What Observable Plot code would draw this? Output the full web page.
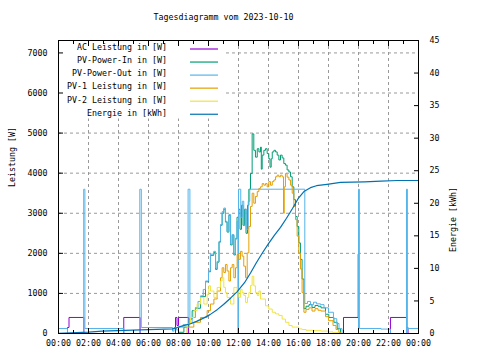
<!DOCTYPE html>
<html><head><meta charset="utf-8">
<script src="https://cdn.jsdelivr.net/npm/d3@7"></script>
<script src="https://cdn.jsdelivr.net/npm/@observablehq/plot@0.6"></script>
<style>html,body{margin:0;padding:0;background:#fff}svg{display:block}</style>
</head><body><div id="chart"></div>
<script>
const title = "Tagesdiagramm vom 2023-10-10";
const yLabelLeft = "Leistung [W]";
const yLabelRight = "Energie [kWh]";
const seriesNames = ["AC Leistung in [W]", "PV-Power-In in [W]", "PV-Power-Out in [W]", "PV-1 Leistung in [W]", "PV-2 Leistung in [W]", "Energie in [kWh]"];
const seriesColors = ["#9400d3", "#009e73", "#56b4e9", "#e69f00", "#f0e442", "#0072b2"];
const hourTicks = [0,2,4,6,8,10,12,14,16,18,20,22,24];
const hourMinor = [1,3,5,7,9,11,13,15,17,19,21,23];
const wattTicks = [0,1000,2000,3000,4000,5000,6000,7000];
const kwhTicks = [0,5,10,15,20,25,30,35,40,45];
const wattMax = 7310, kwhMax = 45;

// [hour, W]
const acPower = [[0,0],[0.6,150],[0.7,400],[1.69,0],[4.35,400],[5.44,0],[7.8,400],[7.9,200],[8.0,400],[8.67,0],
  [19.0,400],[19.98,1980],[20.0,0],[22.13,400],[23.2,150],[23.3,0],[24,0]];

const pvIn = [[0,0],[8.0,30],[8.36,160],[8.69,360],[8.91,570],[9.13,630],[9.47,920],[9.8,1290],[10.0,1540],[10.13,1950],
  [10.35,2020],[10.47,1600],[10.58,1780],[10.7,2280],[10.8,2700],[10.91,3000],[11.02,3100],[11.13,2780],[11.24,2530],
  [11.36,2950],[11.47,2210],[11.58,2450],[11.69,1960],[11.8,2360],[11.9,2900],[12.0,3100],[12.1,2600],[12.2,3200],
  [12.3,2700],[12.4,3100],[12.5,2500],[12.6,3200],[12.69,3600],[12.8,3990],[12.91,4980],[13.02,4570],[13.13,4400],
  [13.25,4610],[13.36,4530],[13.47,4650],[13.52,4100],[13.58,4450],[13.69,4570],[13.8,4610],[13.91,4490],[14.02,4360],
  [14.1,4150],[14.18,4360],[14.25,4530],[14.36,4570],[14.47,4530],[14.58,4450],[14.69,4330],[14.8,4450],[14.91,4380],
  [15.02,4240],[15.13,4200],[15.24,4080],[15.36,4030],[15.47,3910],[15.58,3660],[15.69,3340],[15.8,2920],[15.91,2670],
  [16.02,2260],[16.13,1850],[16.24,1360],[16.36,620],[16.5,680],[16.7,720],[16.9,650],[17.1,700],[17.3,680],[17.5,640],
  [17.8,480],[18.02,400],[18.36,280],[18.58,120],[18.8,0],[24,0]];

const pvOut = [[0,125],[0.6,0],[1.68,3600],[1.76,125],[4.35,0],[5.42,3600],[5.52,150],[7.6,60],[7.7,150],[7.85,90],
  [8.0,160],[8.3,220],[8.64,3600],[8.76,250],[8.91,400],[9.13,650],[9.3,800],[9.47,940],[9.65,1100],[9.8,1310],
  [10.0,1560],[10.13,1980],[10.35,2050],[10.47,1630],[10.58,1800],[10.7,2300],[10.8,2720],[10.91,3040],[11.02,3130],
  [11.13,2800],[11.24,2550],[11.36,2970],[11.47,2230],[11.58,2470],[11.69,1980],[11.8,2380],[11.9,2800],[11.96,0],
  [12.0,3600],[12.15,2900],[12.25,3300],[12.35,2700],[12.45,3100],[12.55,2600],[12.65,3300],[12.75,3600],[16.42,750],
  [16.6,800],[16.8,720],[17.0,780],[17.2,740],[17.47,720],[17.7,640],[18.0,530],[18.33,370],[18.55,250],[18.7,120],
  [18.9,0],[20.0,3600],[20.06,125],[21.5,110],[22.13,0],[23.2,3600],[23.26,125],[24,125]];

const pv1 = [[0,0],[8.13,0],[8.58,160],[9.02,280],[9.47,400],[9.91,570],[10.13,735],[10.36,860],[10.58,1060],[10.8,1390],
  [10.91,1640],[11.02,1520],[11.13,1720],[11.24,1560],[11.36,1310],[11.47,1640],[11.58,1720],[11.69,1390],[11.8,1640],
  [11.91,1970],[12.02,1850],[12.13,2050],[12.24,1930],[12.35,1680],[12.47,1390],[12.58,2010],[12.69,2670],[12.8,3170],
  [12.91,3500],[13.02,3250],[13.13,3420],[13.25,3540],[13.36,3620],[13.47,3660],[13.58,3740],[13.69,3700],[13.8,3740],
  [13.91,3660],[14.02,3790],[14.13,3700],[14.25,3790],[14.36,3830],[14.47,3910],[14.58,3950],[14.69,3910],[14.8,3950],
  [14.91,3910],[15.0,3000],[15.05,3660],[15.13,3990],[15.24,3900],[15.36,3830],[15.47,3700],[15.58,3500],[15.69,3170],
  [15.8,2840],[15.91,2430],[16.02,2010],[16.13,1610],[16.24,1020],[16.36,530],[16.5,600],[16.7,640],[16.9,560],
  [17.1,620],[17.3,580],[17.5,560],[17.8,420],[18.0,320],[18.3,200],[18.5,100],[18.69,30],[18.8,0],[24,0]];

const pv2 = [[0,0],[8.13,0],[8.58,240],[8.8,400],[9.02,570],[9.24,735],[9.47,900],[9.69,735],[9.91,980],[10.02,1190],
  [10.13,1060],[10.36,900],[10.58,1150],[10.8,1310],[10.91,1390],[11.02,1150],[11.13,1020],[11.24,900],[11.47,735],
  [11.69,1150],[11.91,1060],[12.02,900],[12.13,1100],[12.24,1020],[12.35,950],[12.47,775],[12.6,900],[12.69,1020],
  [12.8,1200],[12.91,1430],[13.02,1190],[13.13,1020],[13.25,950],[13.36,1060],[13.47,860],[13.58,860],[13.8,690],
  [14.02,610],[14.25,530],[14.47,490],[14.69,450],[14.91,360],[15.13,280],[15.36,200],[15.58,160],[15.8,160],
  [16.02,115],[16.24,100],[16.5,80],[17.0,70],[17.5,60],[18.0,40],[18.3,20],[18.67,0],[24,0]];

// [hour, kWh]
const energy = [[0,0.03],[2.0,0.2],[2.9,0.35],[5.47,0.55],[7.6,0.7],[7.9,0.9],[8.1,1.05],[8.4,1.25],[8.8,1.5],[9.24,1.9],
  [9.7,2.4],[10.1,2.9],[10.6,3.7],[11.0,4.45],[11.5,5.5],[11.9,6.4],[12.4,7.8],[12.8,9.3],[13.2,10.9],[13.6,12.4],
  [14.0,13.8],[14.4,15.1],[14.8,16.3],[15.2,17.7],[15.6,19.2],[16.0,20.8],[16.36,21.8],[16.8,22.4],[17.2,22.7],
  [17.9,22.9],[18.8,23.2],[20.4,23.3],[21.5,23.4],[22.6,23.5],[24,23.5]];

const ratio = wattMax / kwhMax;
const fmtHour = h => String(h % 24).padStart(2, "0") + ":00";
const grid = {stroke: "#999999", strokeOpacity: 1, strokeDasharray: "3,3"};
const line = (data, color, curve = "step-after") =>
  Plot.line(data, {x: d => d[0], y: d => d[1], stroke: color, strokeWidth: 1, curve});

const legendMark = () => {
  const g = d3.create("svg:g");
  g.append("rect").attr("x", 58.5).attr("y", 40.5).attr("width", 165).attr("height", 78).attr("fill", "white");
  seriesNames.forEach((name, i) => {
    const y = 49 + i * 13.05;
    g.append("text").attr("x", 167).attr("y", y - 1.2).attr("text-anchor", "end")
      .attr("dominant-baseline", "middle").attr("fill", "black").text(name);
    g.append("line").attr("x1", 190).attr("x2", 218).attr("y1", y).attr("y2", y)
      .attr("stroke", seriesColors[i]).attr("stroke-width", 1.2);
  });
  return g.node();
};

const chart = Plot.plot({
  width: 480, height: 360,
  marginLeft: 58, marginRight: 62, marginTop: 40, marginBottom: 27,
  style: {fontFamily: "DejaVu Sans Mono", fontSize: "8.3px", background: "white", color: "black", overflow: "visible"},
  x: {domain: [0, 24]},
  y: {domain: [0, wattMax]},
  marks: [
    Plot.gridX({ticks: hourTicks.slice(1, -1), ...grid}),
    Plot.gridY({ticks: wattTicks.slice(1), ...grid}),
    line(acPower, seriesColors[0]),
    line(pvIn, seriesColors[1]),
    line(pvOut, seriesColors[2]),
    line(pv1, seriesColors[3]),
    line(pv2, seriesColors[4]),
    Plot.line(energy, {x: d => d[0], y: d => d[1] * ratio, stroke: seriesColors[5], strokeWidth: 1.2}),
    legendMark,
    Plot.frame({stroke: "black", strokeWidth: 1}),
    Plot.axisX({ticks: hourTicks, anchor: "bottom", tickSize: -5, tickPadding: 12, tickFormat: fmtHour, label: null}),
    Plot.axisX({ticks: hourMinor, anchor: "bottom", tickSize: -3, tickFormat: () => "", label: null}),
    Plot.axisX({ticks: hourTicks, anchor: "top", tickSize: -5, tickFormat: () => "", label: null}),
    Plot.axisX({ticks: hourMinor, anchor: "top", tickSize: -3, tickFormat: () => "", label: null}),
    Plot.axisY({ticks: wattTicks, anchor: "left", tickSize: -5, tickPadding: 16, tickFormat: d => String(d), label: null}),
    Plot.axisY({ticks: kwhTicks.map(k => k * ratio), anchor: "right", tickSize: -5, tickPadding: 16,
      tickFormat: d => String(Math.round(d / ratio)), label: null}),
    Plot.text([title], {frameAnchor: "top", dx: -15, dy: -23, lineAnchor: "middle", fill: "black"}),
    Plot.text([yLabelLeft], {frameAnchor: "left", dx: -46, rotate: -90, lineAnchor: "middle", fill: "black"}),
    Plot.text([yLabelRight], {frameAnchor: "right", dx: 35, rotate: -90, lineAnchor: "middle", fill: "black"})
  ]
});
document.getElementById("chart").appendChild(chart);
</script></body></html>
